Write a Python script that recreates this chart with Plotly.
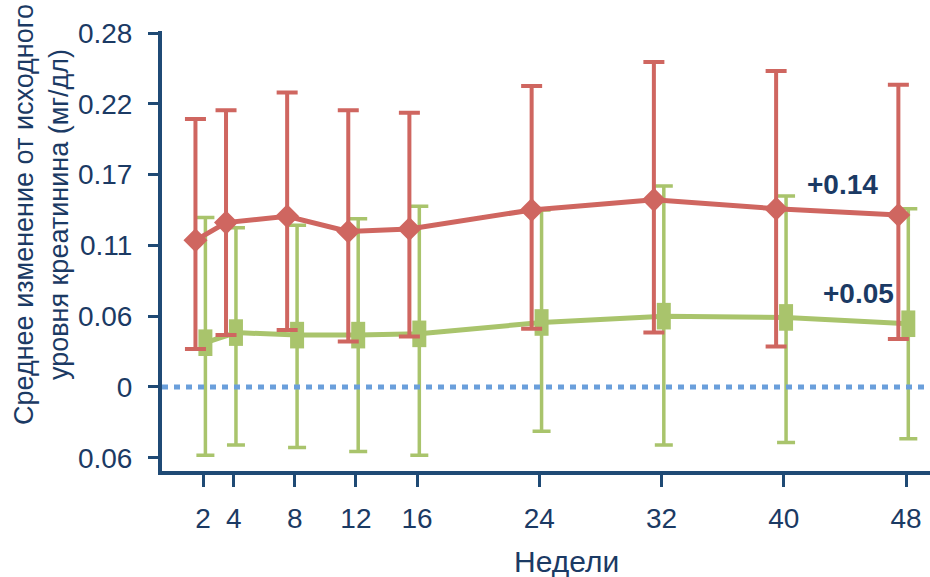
import plotly.graph_objects as go

# ---- data ----
weeks = [2, 4, 8, 12, 16, 24, 32, 40, 48]
week_labels = ["2", "4", "8", "12", "16", "24", "32", "40", "48"]

red_mean = [0.116, 0.130, 0.135, 0.123, 0.125, 0.140, 0.148, 0.141, 0.136]
red_upper = [0.212, 0.219, 0.233, 0.219, 0.217, 0.238, 0.257, 0.250, 0.239]
red_lower = [0.030, 0.041, 0.045, 0.036, 0.040, 0.046, 0.043, 0.032, 0.038]

green_mean = [0.035, 0.043, 0.041, 0.041, 0.042, 0.051, 0.056, 0.055, 0.050]
green_upper = [0.134, 0.126, 0.128, 0.133, 0.143, 0.140, 0.159, 0.151, 0.141]
green_lower = [-0.054, -0.046, -0.048, -0.051, -0.054, -0.035, -0.046, -0.044, -0.041]

y_tickvals = [-0.056, 0, 0.056, 0.112, 0.168, 0.224, 0.28]
y_ticktext = ["0.06", "0", "0.06", "0.11", "0.17", "0.22", "0.28"]

end_labels = ["+0.14", "+0.05"]
y_title = "Среднее изменение от исходного<br>уровня креатинина (мг/дл)"
x_title = "Недели"

# ---- styles ----
RED = "#CF6660"
GREEN = "#A9C46C"
BLUE = "#6A9FDB"
NAVY = "#1B3A64"
AXIS = "#1F4A75"
FONT = "Liberation Sans, Arial, sans-serif"

red_x = [w - 0.5 for w in weeks]
green_x = [w + 0.15 for w in weeks]

fig = go.Figure()

fig.add_trace(go.Scatter(
    x=green_x, y=green_mean, mode="lines+markers",
    line=dict(color=GREEN, width=5),
    marker=dict(symbol="line-ns", size=19, color=GREEN,
                line=dict(color=GREEN, width=14)),
    error_y=dict(type="data", symmetric=False,
                 array=[u - m for u, m in zip(green_upper, green_mean)],
                 arrayminus=[m - l for m, l in zip(green_mean, green_lower)],
                 color=GREEN, thickness=3.5, width=9),
    showlegend=False, hoverinfo="skip",
))

fig.add_trace(go.Scatter(
    x=red_x, y=red_mean, mode="lines+markers",
    line=dict(color=RED, width=5),
    marker=dict(symbol="diamond", size=18.5, color=RED),
    error_y=dict(type="data", symmetric=False,
                 array=[u - m for u, m in zip(red_upper, red_mean)],
                 arrayminus=[m - l for m, l in zip(red_mean, red_lower)],
                 color=RED, thickness=4, width=10.5),
    showlegend=False, hoverinfo="skip",
))

fig.add_shape(type="line", xref="paper", x0=0, x1=1, yref="y", y0=0, y1=0,
              line=dict(color=BLUE, width=5, dash="6px,6px"), layer="above")

L, T, B = 162, 31, 106
PW, PH = 930 - L, 577 - T - B

def px_x(px):
    return (px - L) / PW

def px_y(py):
    return (577 - B - py) / PH

fig.add_annotation(text="<b>" + end_labels[0] + "</b>", x=px_x(842), y=px_y(184),
                   xref="paper", yref="paper", showarrow=False,
                   font=dict(family=FONT, size=28, color=NAVY),
                   xanchor="center", yanchor="middle")
fig.add_annotation(text="<b>" + end_labels[1] + "</b>", x=px_x(858), y=px_y(293),
                   xref="paper", yref="paper", showarrow=False,
                   font=dict(family=FONT, size=28, color=NAVY),
                   xanchor="center", yanchor="middle")
fig.add_annotation(text=y_title, x=px_x(41), y=px_y(215), xref="paper", yref="paper",
                   showarrow=False, textangle=-90,
                   font=dict(family=FONT, size=27, color=NAVY),
                   xanchor="center", yanchor="middle")
fig.add_annotation(text=x_title, x=px_x(566), y=px_y(561), xref="paper", yref="paper",
                   showarrow=False, font=dict(family=FONT, size=30, color=NAVY),
                   xanchor="center", yanchor="middle")

fig.update_layout(
    width=930, height=577,
    margin=dict(l=L, r=0, t=T, b=B),
    paper_bgcolor="white", plot_bgcolor="white",
    font=dict(family=FONT, color=NAVY),
    xaxis=dict(range=[-0.69, 49.57], tickvals=weeks, ticktext=week_labels,
               showline=True, linecolor=AXIS, linewidth=4,
               ticks="outside", ticklen=12, tickwidth=3, tickcolor=AXIS,
               tickfont=dict(family=FONT, size=28, color=NAVY),
               ticklabelstandoff=7,
               showgrid=False, zeroline=False),
    yaxis=dict(range=[-0.0665, 0.2816], tickvals=y_tickvals, ticktext=y_ticktext,
               showline=True, linecolor=AXIS, linewidth=4,
               ticks="outside", ticklen=10, tickwidth=3, tickcolor=AXIS,
               tickfont=dict(family=FONT, size=28, color=NAVY),
               ticklabelstandoff=10,
               showgrid=False, zeroline=False),
)

fig.write_html("out.html",
               config={"displayModeBar": False},
               post_script="document.body.style.margin='0px';document.body.style.overflow='hidden';")
